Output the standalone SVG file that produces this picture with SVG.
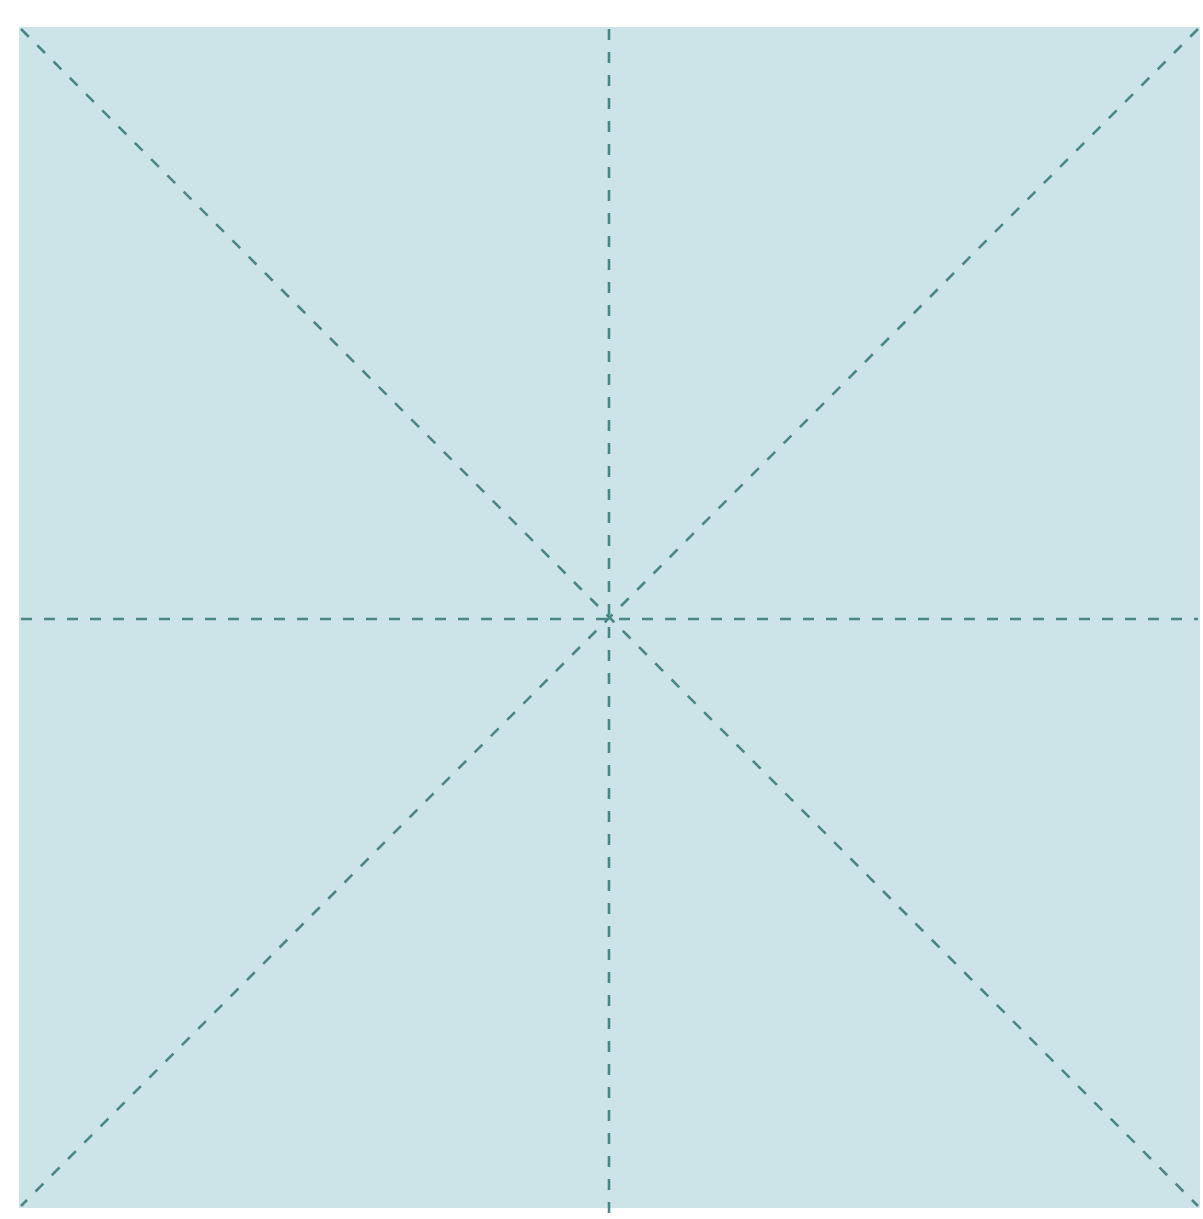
<svg xmlns="http://www.w3.org/2000/svg" width="1203" height="1219" viewBox="0 0 1203 1219">
<style>
.bg{fill:#cce4e7}
.g{stroke:#4a8685;stroke-width:2.6;stroke-dasharray:11 12;fill:none}
</style>
<rect width="1203" height="1219" fill="#ffffff"/>
<g id="square"><rect class="bg" x="19" y="27" width="1181" height="1181"/></g>
<g id="connectors">
<line class="g" x1="21" y1="29" x2="1198" y2="1206"/>
<line class="g" x1="1198" y1="29" x2="21" y2="1206"/>
<line class="g" x1="609" y1="29" x2="609" y2="1214"/>
<line class="g" x1="21" y1="619" x2="1198" y2="619"/>
</g>
</svg>
